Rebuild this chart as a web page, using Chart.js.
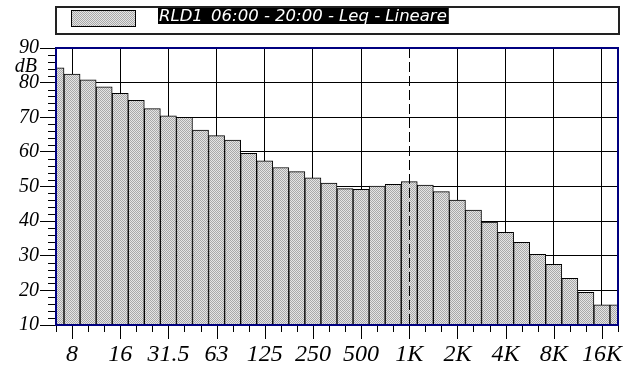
<!DOCTYPE html>
<html>
<head>
<meta charset="utf-8">
<script src="https://cdn.jsdelivr.net/npm/chart.js@4/dist/chart.umd.min.js"></script>
<style>
  body { margin: 0; background: #fff; }
  #wrap { width: 633px; height: 367px; position: relative; }
</style>
</head>
<body>
<div id="wrap"><canvas id="c"></canvas></div>
<script>
// 1/3 octave bands, 6.3 Hz .. 20 kHz
const bands = ['6.3','8','10','12.5','16','20','25','31.5','40','50','63','80','100','125','160','200',
  '250','315','400','500','630','800','1K','1.25K','1.6K','2K','2.5K','3.15K','4K','5K','6.3K','8K',
  '10K','12.5K','16K','20K'];
// Leq per band (dB)
const levels = [84.3, 82.5, 80.8, 78.8, 76.9, 74.9, 72.5, 70.4, 70.0, 66.3, 64.7, 63.4, 59.6, 57.4,
  55.5, 54.3, 52.5, 51.0, 49.4, 49.2, 50.1, 50.6, 51.4, 50.4, 48.5, 46.1, 43.2, 39.7, 36.8, 33.9,
  30.4, 27.5, 23.5, 19.4, 15.8, 15.8];
const xTickLabels = ['8','16','31.5','63','125','250','500','1K','2K','4K','8K','16K'];
const yMin = 10, yMax = 90, yStep = 10, yMinorStep = 2;
const markerBand = '1K';
const seriesName = 'RLD1_06:00 - 20:00 - Leq - Lineare';
const unit = 'dB';

const canvas = document.getElementById('c');
const ctx = canvas.getContext('2d');

// dotted grey fill like the original
const pc = document.createElement('canvas');
pc.width = 2; pc.height = 2;
const pctx = pc.getContext('2d');
pctx.fillStyle = '#e4e4e4'; pctx.fillRect(0, 0, 2, 2);
pctx.fillStyle = '#a8a8a8'; pctx.fillRect(0, 0, 1, 1); pctx.fillRect(1, 1, 1, 1);
const dots = ctx.createPattern(pc, 'repeat');

const isOctave = i => xTickLabels.includes(bands[i]);

const decor = {
  id: 'decor',
  beforeDraw(chart) {
    const c = chart.ctx;
    const a = chart.chartArea;
    c.save();
    // legend box
    c.strokeStyle = '#222';
    c.lineWidth = 2;
    c.strokeRect(a.left, 7, a.right - a.left + 1, 27);
    c.fillStyle = dots;
    c.fillRect(71, 10, 65, 17);
    c.lineWidth = 1;
    c.strokeStyle = '#000';
    c.strokeRect(71.5, 10.5, 64, 16);
    c.font = 'italic 16.5px "DejaVu Sans"';
    const w = c.measureText(seriesName).width;
    c.fillStyle = '#000';
    c.fillRect(158, 8, w + 3, 16);
    c.fillStyle = '#fff';
    c.textBaseline = 'alphabetic';
    c.fillText(seriesName, 159, 21);
    c.restore();
  },
  afterDatasetsDraw(chart) {
    const c = chart.ctx;
    const a = chart.chartArea;
    const xs = chart.scales.x, ys = chart.scales.y;
    c.save();
    // dashed marker at 1 kHz
    const mx = Math.round(xs.getPixelForValue(bands.indexOf(markerBand))) + 0.5;
    c.strokeStyle = '#000';
    c.lineWidth = 1;
    c.setLineDash([10, 4]);
    c.beginPath(); c.moveTo(mx, a.top); c.lineTo(mx, a.bottom); c.stroke();
    c.setLineDash([]);
    // x ticks: short on every band, long on octaves
    c.beginPath();
    bands.forEach((b, i) => {
      const x = Math.round(xs.getPixelForValue(i)) + 0.5;
      c.moveTo(x, a.bottom);
      c.lineTo(x, a.bottom + (isOctave(i) ? 14 : 7));
    });
    // y minor ticks
    for (let v = yMin; v <= yMax; v += yMinorStep) {
      if (v % yStep === 0) continue;
      const y = Math.round(ys.getPixelForValue(v)) + 0.5;
      c.moveTo(a.left - 8, y);
      c.lineTo(a.left, y);
    }
    c.stroke();
    // frame
    c.strokeStyle = '#000080';
    c.lineWidth = 2;
    c.strokeRect(a.left, a.top, a.right - a.left, a.bottom - a.top);
    // unit
    c.fillStyle = '#000';
    c.font = 'italic 20px "Liberation Serif"';
    c.textAlign = 'right';
    c.textBaseline = 'alphabetic';
    c.fillText(unit, 37, 72);
    c.restore();
  }
};

new Chart(ctx, {
  type: 'bar',
  data: {
    labels: bands,
    datasets: [{
      label: seriesName,
      data: levels,
      backgroundColor: dots,
      borderColor: '#000',
      borderWidth: 1,
      barPercentage: 1,
      categoryPercentage: 1,
    }],
  },
  options: {
    responsive: true,
    maintainAspectRatio: false,
    animation: false,
    layout: { padding: { top: 48, right: 15, left: 0, bottom: 0 } },
    plugins: {
      legend: { display: false },
      tooltip: { enabled: false },
    },
    scales: {
      x: {
        type: 'category',
        offset: false,
        border: { display: false },
        grid: {
          offset: false,
          color: c => (isOctave(c.index) && bands[c.index] !== markerBand) ? '#000' : 'rgba(0,0,0,0)',
          lineWidth: 1,
          tickLength: 14,
          tickColor: 'rgba(0,0,0,0)',
        },
        ticks: {
          autoSkip: false,
          maxRotation: 0,
          padding: 1,
          color: '#000',
          font: { family: 'Liberation Serif', style: 'italic', size: 24 },
          callback: (v, i) => isOctave(i) ? bands[i] : '',
        },
        afterFit: s => { s.height = 42; },
      },
      y: {
        min: yMin,
        max: yMax,
        border: { display: false },
        grid: {
          color: '#000',
          lineWidth: 1,
          tickLength: 16,
          tickColor: '#000',
        },
        ticks: {
          stepSize: yStep,
          padding: 1,
          color: '#000',
          font: { family: 'Liberation Serif', style: 'italic', size: 20 },
        },
        afterFit: s => { s.width = 56; },
      },
    },
  },
  plugins: [decor],
});
</script>
</body>
</html>
